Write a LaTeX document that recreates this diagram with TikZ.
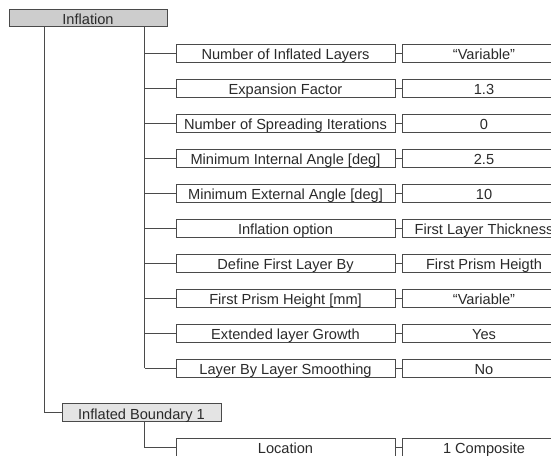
\documentclass[tikz,border=0pt]{standalone}
\usepackage{fontspec}
\setmainfont{Liberation Sans}
\definecolor{linec}{HTML}{4A4A4A}
\definecolor{txtc}{HTML}{2A2A2A}
\definecolor{headfill}{HTML}{CDCDCD}
\definecolor{subfill}{HTML}{E4E4E4}
\begin{document}
\begin{tikzpicture}[x=1pt,y=-1pt,
  box/.style={draw=linec,line width=0.9pt,rectangle,inner sep=0pt,minimum height=18pt,
    font=\fontsize{14.6}{16}\selectfont,text=txtc,anchor=center,
    text height=12.4pt,text depth=0pt},
  lab/.style={box,minimum width=219pt,fill=white},
  val/.style={box,minimum width=164pt,fill=white},
  conn/.style={draw=linec,line width=0.9pt}]
\useasboundingbox (0,0) rectangle (551,455);
\clip (0,0) rectangle (551,455);
\fill[white] (0,0) rectangle (551,455);
\coordinate (trunkA) at (144.5,0);
\coordinate (trunkB) at (44.3,0);
\node[box,minimum width=158pt,minimum height=17.5pt,fill=headfill] (infl) at (88,18) {Inflation};
\foreach \i/\l/\v in {0/Number of Inflated Layers/“Variable”,
  1/Expansion Factor/1.3,
  2/Number of Spreading Iterations/0,
  3/Minimum Internal Angle [deg]/2.5,
  4/Minimum External Angle [deg]/10,
  5/Inflation option/First Layer Thickness,
  6/Define First Layer By/First Prism Heigth,
  7/First Prism Height [mm]/“Variable”,
  8/Extended layer Growth/Yes,
  9/Layer By Layer Smoothing/No}{
  \node[lab] (l\i) at (285.5,{53.2+35*\i}) {\l};
  \node[val] (v\i) at (484,{53.2+35*\i}) {\v};
  \draw[conn] (l\i.east) -- (v\i.west);
  \draw[conn] (trunkA |- l\i.west) -- (l\i.west);
}
\draw[conn] (trunkA |- infl.south) -- (trunkA |- l9.west);
\node[box,minimum width=159pt,fill=subfill] (bnd) at (141.5,412.8) {Inflated Boundary 1};
\draw[conn] (trunkB |- infl.south) |- (bnd.west);
\node[lab] (loc) at (285.5,447) {Location};
\node[val] (locv) at (484,447) {1 Composite};
\draw[conn] (loc.east) -- (locv.west);
\draw[conn] (trunkA |- bnd.south) |- (loc.west);
\end{tikzpicture}
\end{document}
